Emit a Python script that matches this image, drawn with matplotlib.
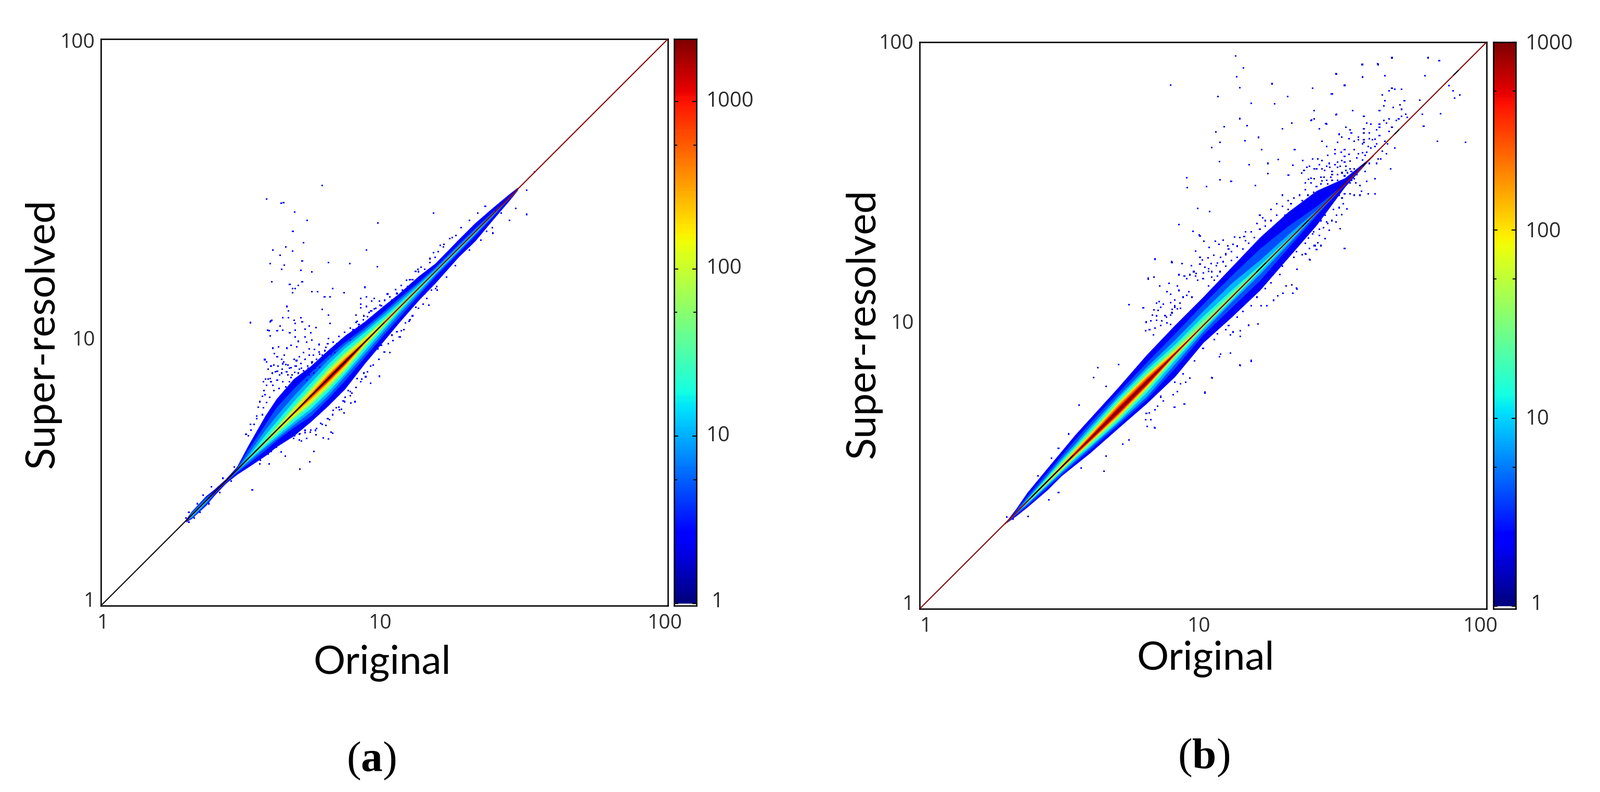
import numpy as np
import matplotlib
matplotlib.use('Agg')
import matplotlib.pyplot as plt
from matplotlib.colors import LogNorm
from matplotlib.transforms import ScaledTranslation
from matplotlib.ticker import NullLocator

W, H = 3076, 1522
DPI = 100
plt.rcParams['mathtext.fontset'] = 'custom'
plt.rcParams['mathtext.bf'] = 'Liberation Serif:bold'

# everything below in log10 of the axis value
# panel (a) stations along the diagonal, offsets are above/below the diagonal
a_x = [.30, .32, .37, .40, .44, .48, .52, .58, .62, .68, .74, .80, .86, .93, 1.0, 1.05, 1.12, 1.18, 1.26, 1.32, 1.38, 1.44, 1.47]
a_levels = [2.4, 5, 10, 20, 50, 100, 200, 500, 1000, 2000]
a_up_2 = [.004, .012, .016, .01, .006, .01, .045, .09, .11, .12, .105, .10, .092, .072, .06, .05, .042, .028, .03, .03, .022, .012, .005]
a_lo_2 = [.004, .012, .016, .01, .008, .016, .03, .05, .058, .08, .09, .095, .095, .075, .062, .052, .042, .04, .03, .032, .02, .01, .003]
a_up_5 = [0, .01, .012, .004, .003, .006, .03, .06, .08, .085, .083, .08, .07, .052, .04, .034, .022, .015, .014, .012, .008, 0, 0]
a_lo_5 = [0, .01, .012, .004, .004, .008, .018, .03, .035, .05, .07, .07, .065, .052, .04, .034, .024, .016, .014, .012, .008, 0, 0]
a_up_10 = [0, .006, .006, 0, 0, .003, .015, .04, .05, .06, .064, .066, .06, .043, .032, .025, .016, .01, .009, .007, .004, 0, 0]
a_lo_10 = [0, .006, .006, 0, 0, .004, .01, .02, .028, .04, .055, .058, .05, .04, .028, .021, .016, .01, .009, .007, .004, 0, 0]
a_up_20 = [0, .003, .003, 0, 0, 0, .006, .022, .03, .04, .046, .05, .048, .034, .022, .015, .009, .005, .004, .003, 0, 0, 0]
a_lo_20 = [0, .003, .003, 0, 0, 0, .005, .014, .02, .03, .043, .045, .04, .028, .018, .012, .008, .005, .004, .003, 0, 0, 0]
a_up_50 = [0, 0, 0, 0, 0, 0, 0, .008, .014, .024, .03, .036, .034, .021, .012, .008, .004, 0, 0, 0, 0, 0, 0]
a_lo_50 = [0, 0, 0, 0, 0, 0, 0, .006, .01, .018, .03, .033, .03, .015, .009, .006, .003, 0, 0, 0, 0, 0, 0]
a_up_100 = [0, 0, 0, 0, 0, 0, 0, .003, .007, .015, .021, .027, .026, .015, .007, .003, 0, 0, 0, 0, 0, 0, 0]
a_lo_100 = [0, 0, 0, 0, 0, 0, 0, .003, .006, .012, .023, .024, .022, .01, .005, .003, 0, 0, 0, 0, 0, 0, 0]
a_up_200 = [0, 0, 0, 0, 0, 0, 0, 0, .003, .009, .015, .02, .019, .01, .003, 0, 0, 0, 0, 0, 0, 0, 0]
a_lo_200 = [0, 0, 0, 0, 0, 0, 0, 0, .002, .006, .015, .018, .016, .007, .003, 0, 0, 0, 0, 0, 0, 0, 0]
a_up_500 = [0, 0, 0, 0, 0, 0, 0, 0, 0, .002, .008, .013, .012, .004, 0, 0, 0, 0, 0, 0, 0, 0, 0]
a_lo_500 = [0, 0, 0, 0, 0, 0, 0, 0, 0, .002, .008, .011, .01, .003, 0, 0, 0, 0, 0, 0, 0, 0, 0]
a_up_1000 = [0, 0, 0, 0, 0, 0, 0, 0, 0, 0, .002, .008, .008, 0, 0, 0, 0, 0, 0, 0, 0, 0, 0]
a_lo_1000 = [0, 0, 0, 0, 0, 0, 0, 0, 0, 0, .002, .007, .007, 0, 0, 0, 0, 0, 0, 0, 0, 0, 0]
a_up_2000 = [0, 0, 0, 0, 0, 0, 0, 0, 0, 0, 0, .003, .004, 0, 0, 0, 0, 0, 0, 0, 0, 0, 0]
a_lo_2000 = [0, 0, 0, 0, 0, 0, 0, 0, 0, 0, 0, .003, .004, 0, 0, 0, 0, 0, 0, 0, 0, 0, 0]

a_dots_x = [.715, .652, .607, .676, .632, .937, .710, .598, .647, .803, .878, .637, .705, .744, .976, .603, .710, .666, .696, .676, .686, .676, .744, .764, .818, .858, .932, .789, .809, .656, .661, .780, .803, .809, .642, .661, .705, .598, .603, .681, .686, .710, .632, .588, .622, .642, .686, .720, .735, .759, .598, .666, .740, .686, .720, .744, .696, .726, .803, .607, .627, .656, .691, .671, .578, .612, .622, .637, .647, .681, .700, .714, .735, .754, .769, .793,
            .916, .937, .965, .982, .955, .917, .917, .937, .946, .900, .910, 1.011, 1.078, 1.119, 1.173, 1.197, 1.231,
            .982, .951, 1.020, 1.053, 1.069, 1.157, 1.187, .896, .881, .858, .848, .818, .803, .784, .759, .708, .726,
            .585, .780, .636, .644, .683, .727, .677, .977, 1.173, 1.529, 1.502, 1.502, 1.463, 1.441, 1.412, 1.356, 1.390, 1.361, 1.383,
            .534, .702, .736, .751, .593, .651, .527, .578, .600, .593, .512, .527, .549, .563, .636, .812,
            .585, .590, .60, .61, .615, .625, .63, .64, .645, .655, .66, .67, .675, .685, .69, .70, .705, .715, .72, .73, .735, .745, .75, .76, .77, .78, .79, .80, .81, .82, .83, .84, .85, .86, .87, .88, .89, .90, .91, .925, .94, .955, .97, .985, 1.0, 1.02, 1.04, 1.06, 1.09, 1.11, 1.13, 1.16, 1.19, 1.21, 1.24, 1.27, 1.30, 1.33,
            .70, .72, .74, .76, .78, .80, .82, .84, .86, .88, .90, .92, .94, .96, .98, 1.00, 1.03, 1.06, 1.09, 1.12, 1.15, 1.18, 1.22, 1.25, 1.30, 1.34, 1.38,
            .641, .653, .665, .689, .708, .732, .744, .757, .772, .784, .772, .796, .812, .824, .833, .848, .861, .879,
            .604, .622, .637, .659, .671, .683, .696, .720, .735, .751, .708, .726, .622, .598, .573, .585, .607, .641, .665, .689, .653, .628, .610, .579, .595, .585, .573, .570,
            .952, .928, .934, .904, .916, .867, .885, .873, .855, .861, .879, .830, .842, .818, .806, .793, .775, .757, .738, .720, .702, .683,
            1.001, 1.014, .989, .977, 1.026, 1.044, 1.056, 1.075, 1.087, 1.099, 1.111, 1.136, 1.142, 1.166, 1.185,
            .903, .928, .952, .965, .989, 1.001, 1.026, 1.044, 1.063, 1.081, 1.099, 1.121, 1.142, 1.160, 1.179, 1.209, 1.252,
            .52, .53, .54, .55, .555, .56, .57, .575, .58, .59, .60, .56, .575, .59, .60, .62, .64, .66, .68, .70,
            .30, .31, .33, .34, .35, .36, .38, .39, .31, .42, .43, .46, .47]
a_dots_y = [1.281, 1.266, 1.256, 1.251, 1.237, 1.256, 1.217, 1.207, 1.202, 1.212, 1.207, 1.188, 1.183, 1.178, 1.197, 1.144, 1.144, 1.134, 1.131, 1.119, 1.119, 1.105, 1.109, 1.109, 1.119, 1.104, 1.124, 1.090, 1.090, 1.056, 1.041, 1.046, 1.026, .996, 1.016, 1.016, 1.016, 1.002, 1.007, 1.007, .997, 1.002, .987, .972, .970, .972, .972, .976, .987, .982, .953, .963, .963, .948, .948, .938, .933, .931, .943, .909, .914, .909, .914, .919, .870, .889, .879, .870, .884, .870, .879, .894, .906, .904, .922, .912,
            1.085, 1.090, 1.085, 1.075, 1.075, 1.065, 1.051, 1.056, 1.035, 1.026, .992, 1.100, 1.149, 1.188, 1.246, 1.271, 1.295,
            .810, .785, .893, .949, .974, 1.060, 1.114, .720, .715, .681, .693, .608, .588, .593, .603, .581, .590,
            1.435, 1.483, 1.420, 1.423, 1.390, 1.360, 1.322, 1.351, 1.385, 1.531, 1.466, 1.381, 1.402, 1.360, 1.385, 1.410, 1.396, 1.322, 1.315,
            .409, .482, .507, .545, .500, .528, .999, .868, 1.006, .970, .605, .640, .661, .514, .542, .612,
            .860, .835, .845, .850, .825, .845, .815, .835, .860, .825, .850, .840, .815, .845, .865, .835, .855, .83, .87, .845, .885, .86, .885, .87, .895, .885, .90, .925, .905, .93, .92, .95, .94, .965, .955, .98, .975, 1.0, .985, 1.01, 1.02, 1.04, 1.05, 1.06, 1.055, 1.09, 1.115, 1.13, 1.15, 1.18, 1.195, 1.225, 1.25, 1.275, 1.30, 1.335, 1.36, 1.385,
            .585, .61, .62, .625, .64, .66, .69, .70, .72, .755, .77, .80, .825, .85, .87, .895, .935, .97, 1.01, 1.05, 1.085, 1.12, 1.16, 1.20, 1.255, 1.29, 1.335,
            .854, .851, .839, .845, .839, .839, .857, .839, .842, .873, .888, .882, .888, .894, .925, .925, .943, .937,
            .821, .827, .821, .815, .805, .824, .821, .821, .815, .821, .802, .796, .796, .802, .790, .778, .778, .790, .790, .784, .772, .766, .760, .744, .735, .717, .698, .674,
            .845, .821, .808, .802, .790, .778, .750, .760, .723, .735, .741, .698, .692, .674, .656, .637, .643, .619, .613, .619, .607, .600,
            .943, .925, .919, .906, .955, .967, .949, .998, 1.004, 1.023, 1.053, 1.065, 1.102, 1.114, 1.127,
            1.004, 1.023, 1.041, 1.047, 1.059, 1.078, 1.078, 1.102, 1.114, 1.127, 1.151, 1.179, 1.188, 1.212, 1.230, 1.267, 1.307,
            .60, .62, .64, .67, .70, .72, .74, .76, .80, .80, .79, .50, .53, .535, .545, .56, .575, .59, .59, .605,
            .31, .33, .31, .36, .33, .39, .36, .42, .295, .40, .45, .44, .49]

# panel (b)
b_x = [.30, .34, .38, .45, .50, .55, .60, .70, .80, .90, 1.0, 1.1, 1.2, 1.3, 1.4, 1.5, 1.6]
b_levels = [2.1, 4, 8, 16, 30, 100, 200, 400, 800]
b_up_2 = [0, .012, .03, .045, .055, .065, .07, .08, .095, .10, .10, .105, .11, .10, .075, .02, 0]
b_lo_2 = [0, .012, .02, .03, .03, .04, .05, .062, .075, .08, .06, .07, .075, .06, .045, .01, 0]
b_up_4 = [0, .006, .018, .03, .04, .048, .055, .062, .068, .07, .075, .075, .07, .05, .02, 0, 0]
b_lo_4 = [0, .006, .014, .02, .025, .03, .038, .05, .06, .05, .032, .036, .04, .025, .01, 0, 0]
b_up_8 = [0, .002, .01, .02, .03, .034, .042, .05, .052, .048, .05, .048, .03, .02, .006, 0, 0]
b_lo_8 = [0, .002, .008, .014, .018, .024, .03, .042, .05, .035, .02, .016, .018, .012, .003, 0, 0]
b_up_16 = [0, 0, .005, .015, .022, .026, .032, .042, .042, .032, .032, .024, .012, .006, 0, 0, 0]
b_lo_16 = [0, 0, .005, .01, .013, .016, .025, .036, .036, .022, .01, .009, .008, .004, 0, 0, 0]
b_up_30 = [0, 0, .002, .009, .016, .02, .023, .032, .03, .022, .018, .012, .004, 0, 0, 0, 0]
b_lo_30 = [0, 0, .002, .006, .009, .012, .018, .028, .026, .012, .006, .005, .002, 0, 0, 0, 0]
b_up_100 = [0, 0, 0, .004, .009, .012, .016, .026, .024, .012, .003, 0, 0, 0, 0, 0, 0]
b_lo_100 = [0, 0, 0, .004, .006, .008, .012, .022, .02, .006, .002, 0, 0, 0, 0, 0, 0]
b_up_200 = [0, 0, 0, 0, .005, .008, .011, .02, .018, .007, 0, 0, 0, 0, 0, 0, 0]
b_lo_200 = [0, 0, 0, 0, .003, .005, .009, .016, .014, .004, 0, 0, 0, 0, 0, 0, 0]
b_up_400 = [0, 0, 0, 0, 0, .004, .007, .013, .012, .003, 0, 0, 0, 0, 0, 0, 0]
b_lo_400 = [0, 0, 0, 0, 0, .003, .006, .011, .01, .002, 0, 0, 0, 0, 0, 0, 0]
b_up_800 = [0, 0, 0, 0, 0, 0, .004, .008, .007, 0, 0, 0, 0, 0, 0, 0, 0]
b_lo_800 = [0, 0, 0, 0, 0, 0, .004, .008, .007, 0, 0, 0, 0, 0, 0, 0, 0]

b_dots_x = [1.114, 1.143, 1.118, .885, 1.129, 1.243, 1.386, 1.469, 1.499, 1.561, 1.615, 1.053, 1.298, 1.452, 1.170, 1.253, 1.392, 1.469, 1.528,
            1.129, 1.075, 1.045, 1.155, 1.313, 1.382, 1.433, 1.279, 1.196, 1.148, 1.060, 1.031,
            1.206, 1.323, 1.265, 1.057, 1.162, 1.228, 1.316, 1.060, .943, .944, 1.012, 1.099, 1.184, 1.228, 1.301,
            1.330, 1.170, 1.129, 1.031, 1.006, .933, .899, .829, .738, .651, .716, .658,
            .914, .980, 1.023, .965, .987, .738, .789, .830, .889, .807, .826, .629, .614, .563, .702, .658, .526, .490, .465, .417, .307, .329, .383, .456, .490, .570,
            .83, .85, .87, .89, .90, .92, .93, .95, .96, .98, 1.0, 1.02, 1.03, 1.05, 1.07, 1.08, 1.10, 1.12, 1.13, 1.15, 1.17, 1.19, 1.20, 1.22, 1.24, 1.26, 1.28, 1.30,
            .80, .85, .90, .93, .97, 1.00, 1.04, 1.08, 1.12, 1.17, 1.22, 1.27, 1.32]
b_dots_y = [1.952, 1.909, 1.878, 1.848, 1.840, 1.853, 1.838, 1.888, 1.848, 1.921, 1.923, 1.808, 1.808, 1.817, 1.785, 1.782, 1.758, 1.744, 1.758,
            1.730, 1.701, 1.684, 1.705, 1.715, 1.726, 1.712, 1.695, 1.664, 1.652, 1.646, 1.628,
            1.621, 1.621, 1.586, 1.579, 1.567, 1.572, 1.565, 1.515, 1.522, 1.487, 1.490, 1.508, 1.494, 1.536, 1.530,
            1.132, .876, .860, .816, .764, .722, .712, .640, .596, .486, .581, .539,
            1.357, 1.414, 1.403, 1.333, 1.319, 1.073, 1.062, 1.235, 1.225, 1.167, 1.171, .851, .816, .719, .862, .785, .617, .567, .532, .469, .324, .317, .326, .385, .410, .497,
            .99, 1.0, 1.03, 1.045, 1.065, 1.06, 1.10, 1.12, 1.10, 1.16, 1.165, 1.20, 1.17, 1.22, 1.225, 1.25, 1.26, 1.28, 1.31, 1.30, 1.33, 1.36, 1.39, 1.37, 1.41, 1.43, 1.46, 1.44,
            .69, .75, .80, .83, .875, .92, .95, .985, 1.03, 1.07, 1.13, 1.18, 1.24]
# upper right of (b), read one by one
b_top_x = [1.666, 1.793, 1.833, 1.563, 1.617, 1.470, 1.641, 1.563, 1.783, 1.499, 1.386, 1.666, 1.656, 1.676, 1.700, 1.455, 1.632, 1.867, 1.882, 1.906, 1.887, 1.641, 1.710, 1.764, 1.637, 1.695, 1.671, 1.700, 1.391, 1.528, 1.622, 1.470, 1.567, 1.715, 1.700, 1.720, 1.774, 1.837, 1.381, 1.391, 1.656, 1.690, 1.681, 1.637, 1.646, 1.577, 1.592, 1.622, 1.435, 1.778, 1.410, 1.504, 1.567, 1.622, 1.666, 1.519, 1.612, 1.523, 1.567, 1.587, 1.656, 1.479, 1.489, 1.548, 1.514, 1.587, 1.622, 1.607, 1.548, 1.567, 1.533, 1.597, 1.420, 1.475, 1.563, 1.567, 1.612, 1.641, 1.651, 1.827, 1.926, 1.676, 1.435, 1.582, 1.592, 1.465, 1.499, 1.533, 1.607, 1.632, 1.487, 1.548, 1.563, 1.577, 1.646, 1.465, 1.514, 1.440, 1.499, 1.572, 1.543, 1.563, 1.386, 1.405, 1.420, 1.352, 1.489, 1.519, 1.617, 1.627, 1.445, 1.475, 1.499, 1.587, 1.612, 1.410, 1.465, 1.435, 1.484, 1.504, 1.376, 1.366, 1.447, 1.475, 1.391, 1.400, 1.420, 1.519, 1.533, 1.661, 1.356, 1.429, 1.455, 1.504, 1.490, 1.509, 1.523, 1.543, 1.572, 1.347, 1.455, 1.475, 1.499, 1.416, 1.426, 1.450, 1.514, 1.533, 1.391, 1.371, 1.577, 1.607, 1.435, 1.455, 1.475, 1.489, 1.523, 1.538, 1.553, 1.381, 1.361, 1.416, 1.440, 1.470, 1.504, 1.519, 1.558, 1.582, 1.607, 1.519, 1.533, 1.553, 1.499,
           1.508, 1.494, 1.479, 1.489, 1.469, 1.454, 1.445, 1.430, 1.484, 1.499, 1.415, 1.400, 1.376, 1.361, 1.405, 1.391, 1.376, 1.425, 1.435, 1.416, 1.410, 1.386, 1.371]
b_top_y = [1.945, 1.945, 1.935, 1.921, 1.921, 1.887, 1.882, 1.877, 1.882, 1.847, 1.838, 1.838, 1.828, 1.833, 1.833, 1.818, 1.813, 1.847, 1.828, 1.813, 1.803, 1.794, 1.794, 1.796, 1.775, 1.779, 1.769, 1.763, 1.759, 1.759, 1.759, 1.745, 1.739, 1.745, 1.739, 1.734, 1.745, 1.748, 1.724, 1.729, 1.729, 1.729, 1.724, 1.724, 1.715, 1.715, 1.710, 1.710, 1.710, 1.704, 1.694, 1.699, 1.694, 1.699, 1.699, 1.690, 1.690, 1.680, 1.680, 1.680, 1.685, 1.675, 1.665, 1.665, 1.660, 1.660, 1.670, 1.658, 1.655, 1.655, 1.650, 1.655, 1.650, 1.646, 1.641, 1.646, 1.641, 1.650, 1.641, 1.650, 1.646, 1.626, 1.631, 1.631, 1.626, 1.621, 1.621, 1.621, 1.631, 1.616, 1.611, 1.606, 1.609, 1.611, 1.606, 1.606, 1.604, 1.601, 1.597, 1.601, 1.592, 1.584, 1.587, 1.587, 1.582, 1.582, 1.582, 1.580, 1.587, 1.587, 1.572, 1.577, 1.577, 1.572, 1.572, 1.567, 1.567, 1.562, 1.562, 1.562, 1.562, 1.558, 1.558, 1.558, 1.553, 1.553, 1.553, 1.553, 1.553, 1.553, 1.548, 1.548, 1.543, 1.548, 1.539, 1.539, 1.543, 1.533, 1.543, 1.538, 1.533, 1.533, 1.528, 1.523, 1.523, 1.523, 1.523, 1.518, 1.518, 1.516, 1.509, 1.518, 1.513, 1.513, 1.513, 1.509, 1.513, 1.504, 1.494, 1.504, 1.504, 1.499, 1.499, 1.499, 1.504, 1.504, 1.474, 1.465, 1.465, 1.465, 1.460, 1.460, 1.465,
           1.411, 1.430, 1.416, 1.391, 1.365, 1.370, 1.336, 1.307, 1.341, 1.272, 1.282, 1.268, 1.233, 1.253, 1.292, 1.282, 1.272, 1.346, 1.365, 1.370, 1.317, 1.324, 1.309]
# middle of (b), both sides of the band
b_mid_x = [.831, .890, .925, .958, .827, .806, .846, .880, .909, .873, .885, .915, .943, .900, .845, .836, .860, .885, .918, .900, .851, .827, .842, .891, .909, .821, .836, .866, .885, .816, .854, .836, .873, .799, .885, .811, .824, .797,
           .989, 1.002, 1.043, .973, 1.021, .989, .998, 1.018, 1.038, 1.056, 1.071, 1.087, 1.105, 1.111, 1.145, .989, 1.007, 1.028, 1.047, 1.062, 1.080,
           1.001, 1.020, 1.050, .976, .967, .953, .973, .934, .914, .943,
           1.499, 1.430, 1.416, 1.395, 1.377, 1.362, 1.331, 1.313, 1.332, 1.293, 1.317, 1.282, 1.264, 1.249, 1.225, 1.204, 1.194, 1.160, 1.131, 1.131, 1.105, 1.096, 1.096, 1.062, 1.057, 1.170, 1.131, 1.032, 1.007, .934, .899, .830, .802, .816, .797, .953, .939, .920, .909, .895, .860, .850, .839, .830, .810,
           1.02, 1.04, 1.06, 1.08, 1.10, 1.12, 1.14, 1.16, 1.18, 1.20, 1.22, 1.24, 1.26, 1.28, 1.30, 1.32, 1.34, 1.36, 1.38, 1.40, 1.42, 1.44,
           1.03, 1.09, 1.11, 1.15, 1.18, 1.21, 1.25, 1.27, 1.29, 1.31, 1.33, 1.35, 1.37, 1.39, 1.41, 1.43, 1.45, 1.46, 1.48, 1.47,
           1.05, 1.09, 1.14, 1.19, 1.24, 1.28, 1.33, 1.36, 1.39, 1.43, 1.46, 1.49, 1.44, 1.41, 1.47, 1.35]
b_mid_y = [1.233, 1.223, 1.218, 1.212, 1.171, 1.163, 1.139, 1.149, 1.139, 1.120, 1.110, 1.124, 1.107, 1.090, 1.085, 1.079, 1.075, 1.081, 1.079, 1.070, 1.064, 1.055, 1.054, 1.057, 1.058, 1.037, 1.034, 1.035, 1.037, 1.016, 1.016, 1.018, 1.009, 1.012, 1.003, .986, .967, .982,
           1.316, 1.297, 1.297, 1.262, 1.275, 1.241, 1.232, 1.238, 1.248, 1.286, 1.301, 1.281, 1.287, 1.312, 1.314, 1.217, 1.205, 1.218, 1.211, 1.241, 1.254,
           1.186, 1.191, 1.174, 1.183, 1.190, 1.179, 1.174, 1.174, 1.179, 1.165,
           1.272, 1.306, 1.282, 1.282, 1.232, 1.252, 1.199, 1.144, 1.129, 1.139, 1.114, 1.114, 1.104, 1.089, 1.070, 1.070, 1.006, 1.001, .982, .961, .977, .967, .903, .899, .889, .873, .859, .815, .761, .722, .712, .638, .643, .668, .668, .815, .800, .794, .766, .755, .734, .746, .716, .702, .692,
           1.14, 1.16, 1.19, 1.21, 1.23, 1.24, 1.27, 1.29, 1.31, 1.34, 1.35, 1.37, 1.39, 1.42, 1.41, 1.45, 1.46, 1.48, 1.52, 1.49, 1.51, 1.50,
           1.19, 1.27, 1.20, 1.33, 1.27, 1.38, 1.33, 1.36, 1.39, 1.43, 1.41, 1.44, 1.46, 1.47, 1.47, 1.48, 1.47, 1.44, 1.46, 1.49,
           .97, 1.00, 1.05, 1.10, 1.15, 1.21, 1.26, 1.29, 1.33, 1.39, 1.41, 1.45, 1.36, 1.34, 1.39, 1.25]

axis_ticks = [1, 10, 100]
a_cbar_ticks = [1, 10, 100, 1000]
b_cbar_ticks = [1, 10, 100, 1000]
a_cbar_minor = [5.5, 55, 550]
b_cbar_minor = [5.5, 55, 550]
a_vmax = 2370
b_vmax = 1000
dot_count_a = 2.4
dot_count_b = 2.1
# parts of the diagonal that go off the scale (black)
a_black = [(0, 1.0)]
a_red = [(1.0, 2.0)]
b_red = [(0, 2.0)]
b_black = [(.395, .54), (1.19, 1.22), (1.35, 1.37), (1.563, 1.573), (1.676, 1.69), (1.884, 1.90)]


def px_axes(x0, y0, x1, y1):
    return fig.add_axes([x0 / W, 1 - y1 / H, (x1 - x0) / W, (y1 - y0) / H])


def shift(label, dx, dy):
    label.set_transform(label.get_transform() + ScaledTranslation(dx / DPI, -dy / DPI, fig.dpi_scale_trans))


def panel(box, cbox, xs, levels, ups, los, dots_x, dots_y, dot_count, vmax, cticks, cminor,
          xshift, yshift, cshift):
    ax = px_axes(*box)
    ax.set_xscale('log')
    ax.set_yscale('log')
    ax.set_xlim(1, 100)
    ax.set_ylim(1, 100)
    norm = LogNorm(1, vmax)
    lx = np.array(xs)
    base = 10.0 ** lx
    for lev, up, lo in zip(levels, ups, los):
        ax.fill_between(base, 10 ** (lx - np.array(lo)), 10 ** (lx + np.array(up)),
                        color=plt.cm.jet(norm(lev)), lw=0.6, zorder=2)
    ax.scatter(10 ** np.array(dots_x), 10 ** np.array(dots_y), c=[dot_count] * len(dots_x),
               cmap='jet', norm=norm, marker='s', s=5, lw=0, zorder=3)
    ax.xaxis.set_minor_locator(NullLocator())
    ax.yaxis.set_minor_locator(NullLocator())
    ax.set_xticks(axis_ticks, ['1', '10', '100'])
    ax.set_yticks(axis_ticks, ['1', '10', '100'])
    ax.tick_params(which='both', length=0, labelsize=28, labelcolor='#2a2a2a', pad=8)
    for lab in ax.get_xticklabels() + ax.get_yticklabels():
        lab.set_fontfamily('Open Sans')
    for lab, d in zip(ax.get_xticklabels(), xshift):
        shift(lab, *d)
    for lab, d in zip(ax.get_yticklabels(), yshift):
        shift(lab, *d)
    for s in ax.spines.values():
        s.set_linewidth(1.9)
    ax.set_zorder(2)

    cax = px_axes(*cbox)
    cax.set_yscale('log')
    cax.set_ylim(0.97, vmax)
    cax.set_xlim(0, 1)
    vals = np.geomspace(1, vmax, 257)
    cax.pcolormesh([0, 1], vals, np.array(vals[:-1]).reshape(-1, 1), cmap='jet', norm=norm, rasterized=True)
    cax.set_xticks([])
    cax.yaxis.tick_right()
    cax.yaxis.set_minor_locator(NullLocator())
    cax.set_yticks(cticks, [str(t) for t in cticks])
    cax.set_yticks(cminor, minor=True)
    cax.set_yticklabels([], minor=True)
    cax.tick_params(axis='y', which='major', direction='in', length=6, width=1.4, right=True, left=True,
                    labelsize=29, labelcolor='#2a2a2a', pad=13)
    cax.tick_params(axis='y', which='minor', direction='in', length=4, width=1.4, right=True, left=True)
    for lab in cax.get_yticklabels():
        lab.set_fontfamily('Open Sans')
    for lab, d in zip(cax.get_yticklabels(), cshift):
        shift(lab, *d)
    for s in cax.spines.values():
        s.set_linewidth(1.9)
    return ax


def diagonal(ax, parts, color, z):
    for p0, p1 in parts:
        ax.plot([10 ** p0, 10 ** p1], [10 ** p0, 10 ** p1], color=color, lw=1.5, zorder=z)


fig = plt.figure(figsize=(W / DPI, H / DPI), dpi=DPI)

a_ups = [a_up_2, a_up_5, a_up_10, a_up_20, a_up_50, a_up_100, a_up_200, a_up_500, a_up_1000, a_up_2000]
a_los = [a_lo_2, a_lo_5, a_lo_10, a_lo_20, a_lo_50, a_lo_100, a_lo_200, a_lo_500, a_lo_1000, a_lo_2000]
b_ups = [b_up_2, b_up_4, b_up_8, b_up_16, b_up_30, b_up_100, b_up_200, b_up_400, b_up_800]
b_los = [b_lo_2, b_lo_4, b_lo_8, b_lo_16, b_lo_30, b_lo_100, b_lo_200, b_lo_400, b_lo_800]

ax_a = panel((194, 75, 1284, 1164), (1296, 75, 1339, 1164), a_x, a_levels, a_ups, a_los,
             a_dots_x, a_dots_y, dot_count_a, a_vmax, a_cbar_ticks, a_cbar_minor,
             [(4, 4), (-8, 4), (-6, 4)], [(0, -12), (0, 30), (0, 2)], [(10, -8), (0, -6), (0, -6), (0, -6)])
ax_b = panel((1768, 81, 2858, 1170), (2871, 81, 2914, 1170), b_x, b_levels, b_ups, b_los,
             b_dots_x + b_top_x + b_mid_x, b_dots_y + b_top_y + b_mid_y, dot_count_b, b_vmax, b_cbar_ticks, b_cbar_minor,
             [(12, 4), (-8, 4), (-12, 4)], [(0, -12), (0, -8), (0, -2)], [(10, -8), (0, -3), (0, -2), (0, -1)])

diagonal(ax_a, a_black, 'black', 4)
diagonal(ax_a, a_red, '#800000', 4)
diagonal(ax_b, b_red, '#800000', 4)
diagonal(ax_b, b_black, 'black', 5)

lab_kw = dict(family='Lato', fontsize=55, color='black', ha='center', va='center')
fig.text(735 / W, 1 - 1274 / H, 'Original', **lab_kw)
fig.text(2318 / W, 1 - 1266 / H, 'Original', **lab_kw)
lab_kw['fontsize'] = 56
fig.text(82 / W, 1 - 641 / H, 'Super-resolved', rotation=90, **lab_kw)
fig.text(1660 / W, 1 - 622 / H, 'Super-resolved', rotation=90, **lab_kw)
cap_kw = dict(family='Liberation Serif', fontsize=60, color='black', ha='center', va='center')
fig.text(714 / W, 1 - 1462 / H, r'($\mathbf{a}$)', **cap_kw)
fig.text(2314 / W, 1 - 1456 / H, r'($\mathbf{b}$)', **cap_kw)

fig.savefig('out.png', dpi=DPI)
